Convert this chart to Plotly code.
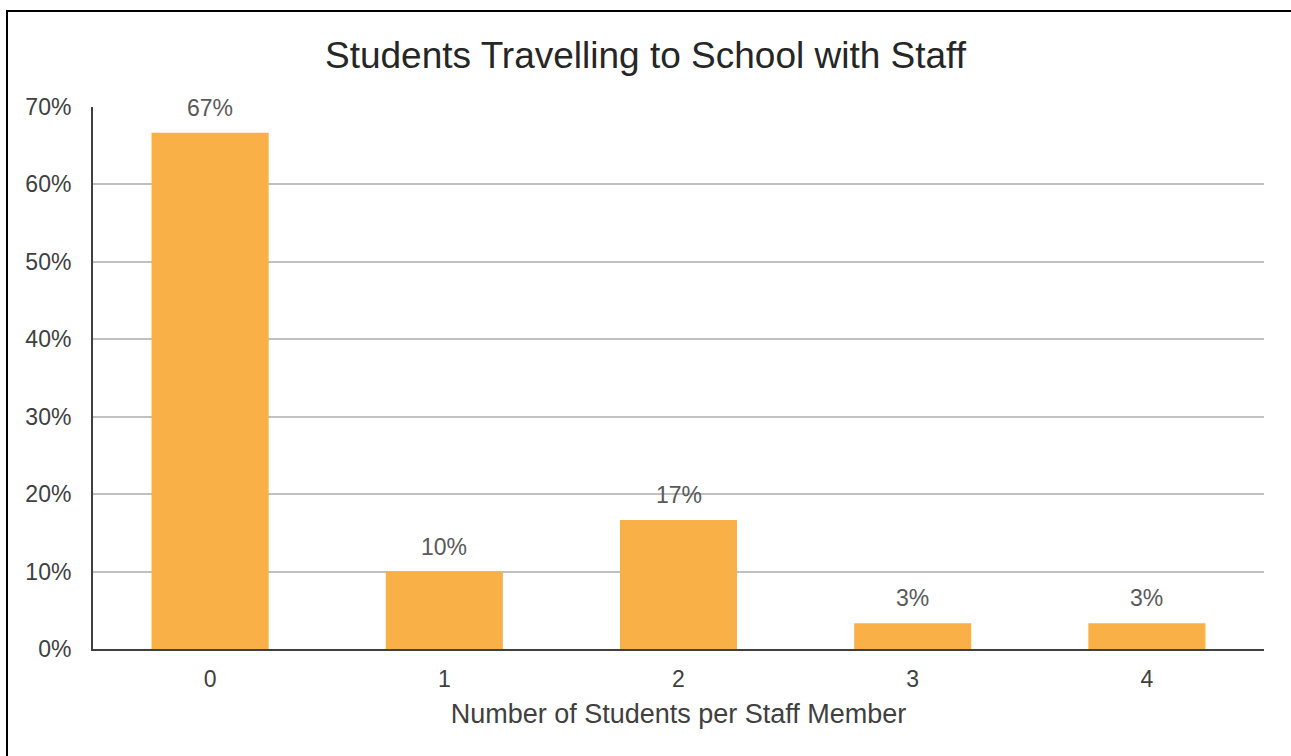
import plotly.graph_objects as go

categories = ["0", "1", "2", "3", "4"]
values = [66.67, 10.0, 16.67, 3.33, 3.33]
labels = ["67%", "10%", "17%", "3%", "3%"]
y_ticks = [0, 10, 20, 30, 40, 50, 60, 70]
y_ticktext = ["0%", "10%", "20%", "30%", "40%", "50%", "60%", "70%"]

font = "Liberation Sans, Arial, sans-serif"

fig = go.Figure(go.Bar(
    x=categories, y=values,
    marker=dict(color="#F9B046", line=dict(width=0)),
    width=0.5, hoverinfo="x+y",
))

annotations = [
    dict(x=c, y=v, text=t, xref="x", yref="y", showarrow=False,
         yanchor="bottom", yshift=10, font=dict(size=23, color="#595959", family=font))
    for c, v, t in zip(categories, values, labels)
]

fig.update_layout(
    width=1291, height=756,
    margin=dict(l=93, r=27, t=107, b=107),
    paper_bgcolor="white", plot_bgcolor="white",
    font=dict(family=font, color="#404040"),
    title=dict(text="Students Travelling to School with Staff", x=0.5, xanchor="center",
               y=1 - 55 / 756, yanchor="middle", font=dict(size=37, color="#262626", family=font)),
    showlegend=False,
    annotations=annotations,
    xaxis=dict(title=dict(text="Number of Students per Staff Member", font=dict(size=27, color="#404040"), standoff=14),
               tickfont=dict(size=23, color="#404040"), showline=True, linecolor="#404040", linewidth=2,
               ticks="outside", ticklen=8, tickcolor="rgba(0,0,0,0)", showgrid=False),
    yaxis=dict(range=[0, 70], tickvals=y_ticks, ticktext=y_ticktext,
               tickfont=dict(size=23, color="#404040"), showline=True, linecolor="#404040", linewidth=2,
               gridcolor="#C0C0C0", gridwidth=1.5, ticks="outside", ticklen=15, tickcolor="rgba(0,0,0,0)",
               zeroline=False),
    shapes=[dict(type="rect", xref="paper", yref="paper",
                 x0=(7 - 93) / 1171, x1=(1400 - 93) / 1171,
                 y0=(649 - 800) / 542, y1=(649 - 11) / 542,
                 line=dict(color="black", width=2), fillcolor="rgba(0,0,0,0)", layer="below")],
)

fig.write_html("out.html", config={"displayModeBar": False},
               post_script="document.body.style.margin='0';")
